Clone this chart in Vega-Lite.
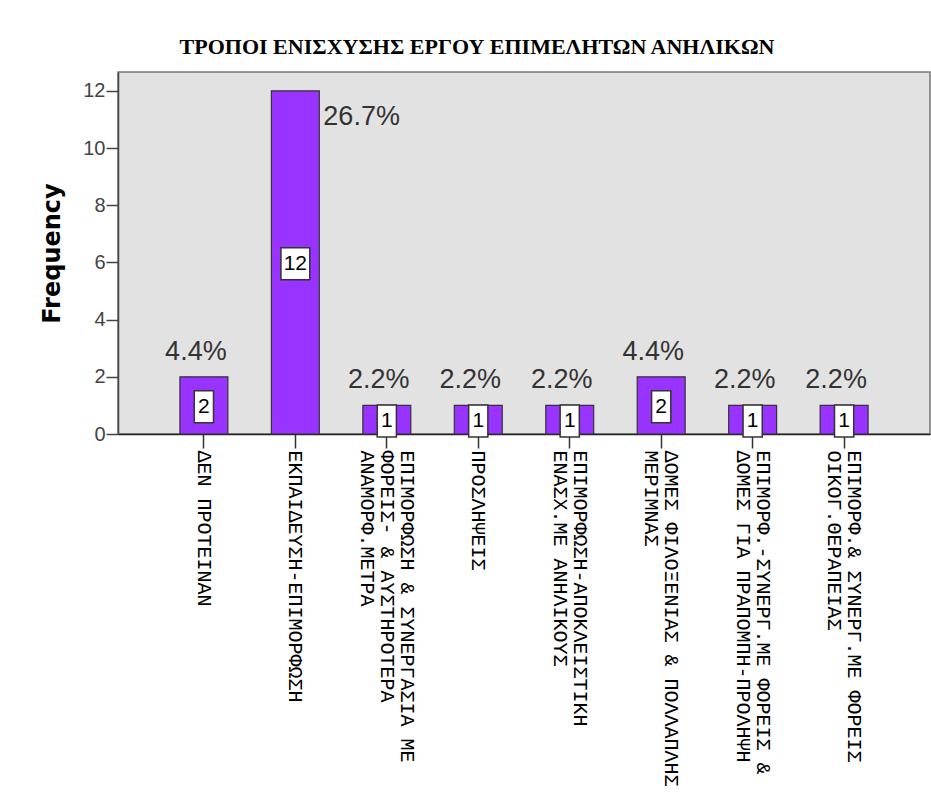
{
  "$schema": "https://vega.github.io/schema/vega-lite/v6.json",
  "autosize": "none",
  "width": 812,
  "height": 362,
  "padding": {"left": 118, "top": 72, "right": 1, "bottom": 367},
  "background": "white",
  "config": {
    "view": {"fill": "#e2e2e2", "stroke": "#777777", "strokeWidth": 1.5}
  },
  "title": {
    "text": "ΤΡΟΠΟΙ ΕΝΙΣΧΥΣΗΣ ΕΡΓΟΥ ΕΠΙΜΕΛΗΤΩΝ ΑΝΗΛΙΚΩΝ",
    "font": "Liberation Serif",
    "fontSize": 22,
    "fontWeight": "bold",
    "color": "#000000",
    "anchor": "middle",
    "dx": -47,
    "offset": 13
  },
  "data": {
    "values": [
      {"category": "ΔΕΝ ΠΡΟΤΕΙΝΑΝ", "count": 2, "pct": 0.044},
      {"category": "ΕΚΠΑΙΔΕΥΣΗ-ΕΠΙΜΟΡΦΩΣΗ", "count": 12, "pct": 0.267},
      {"category": "ΕΠΙΜΟΡΦΩΣΗ & ΣΥΝΕΡΓΑΣΙΑ ΜΕ|ΦΟΡΕΙΣ- & ΑΥΣΤΗΡΟΤΕΡΑ|ΑΝΑΜΟΡΦ.ΜΕΤΡΑ", "count": 1, "pct": 0.022},
      {"category": "ΠΡΟΣΛΗΨΕΙΣ", "count": 1, "pct": 0.022},
      {"category": "ΕΠΙΜΟΡΦΩΣΗ-ΑΠΟΚΛΕΙΣΤΙΚΗ|ΕΝΑΣΧ.ΜΕ ΑΝΗΛΙΚΟΥΣ", "count": 1, "pct": 0.022},
      {"category": "ΔΟΜΕΣ ΦΙΛΟΞΕΝΙΑΣ & ΠΟΛΛΑΠΛΗΣ|ΜΕΡΙΜΝΑΣ", "count": 2, "pct": 0.044},
      {"category": "ΕΠΙΜΟΡΦ.-ΣΥΝΕΡΓ.ΜΕ ΦΟΡΕΙΣ &|ΔΟΜΕΣ ΓΙΑ ΠΡΑΠΟΜΠΗ-ΠΡΟΛΗΨΗ", "count": 1, "pct": 0.022},
      {"category": "ΕΠΙΜΟΡΦ.& ΣΥΝΕΡΓ.ΜΕ ΦΟΡΕΙΣ|ΟΙΚΟΓ.ΘΕΡΑΠΕΙΑΣ", "count": 1, "pct": 0.022}
    ]
  },
  "encoding": {
    "x": {
      "field": "category",
      "type": "nominal",
      "sort": null,
      "scale": {"paddingInner": 0.476, "paddingOuter": 0.677},
      "axis": {
        "title": null,
        "labelAngle": 90,
        "labelFont": "Liberation Mono",
        "labelFontSize": 20,
        "labelColor": "#000000",
        "labelLimit": 0,
        "labelLineHeight": 20,
        "labelPadding": 2,
        "labelExpr": "split(datum.label, '|')",
        "labelOffset": {
          "condition": [
            {"test": "length(split(datum.value, '|')) == 3", "value": 20},
            {"test": "length(split(datum.value, '|')) == 2", "value": 10}
          ],
          "value": 0
        },
        "tickSize": 14,
        "tickColor": "#333333",
        "tickWidth": 1.5,
        "domainColor": "#222222",
        "domainWidth": 1.5
      }
    }
  },
  "resolve": {"scale": {"y": "independent"}},
  "layer": [
    {
      "encoding": {
        "y": {
          "field": "count",
          "type": "quantitative",
          "scale": {"domain": [0, 12.66], "nice": false},
          "axis": {
            "title": "Frequency",
            "titleFont": "DejaVu Sans",
            "titleFontSize": 24,
            "titleFontWeight": "bold",
            "titleColor": "#000000",
            "titlePadding": 18,
            "values": [0, 2, 4, 6, 8, 10, 12],
            "grid": false,
            "labelFont": "Liberation Sans",
            "labelFontSize": 20,
            "labelColor": "#444444",
            "labelPadding": 1,
            "tickSize": 12,
            "tickColor": "#444444",
            "tickWidth": 1.5,
            "domainColor": "#444444",
            "domainWidth": 1.5
          }
        }
      },
      "layer": [
        {
          "mark": {"type": "bar", "fill": "#9933ff", "stroke": "#333333", "strokeWidth": 1.2}
        },
        {
          "transform": [{"filter": "datum.count < 10"}],
          "mark": {"type": "text", "font": "Liberation Sans", "fontSize": 27, "color": "#333333", "baseline": "alphabetic", "align": "center", "dx": -8, "dy": -17},
          "encoding": {"text": {"field": "pct", "type": "quantitative", "format": ".1%"}}
        },
        {
          "transform": [{"filter": "datum.count >= 10"}],
          "mark": {"type": "text", "font": "Liberation Sans", "fontSize": 27, "color": "#333333", "baseline": "alphabetic", "align": "left", "dx": 28, "dy": 34},
          "encoding": {"text": {"field": "pct", "type": "quantitative", "format": ".1%"}}
        }
      ]
    },
    {
      "encoding": {
        "y": {
          "field": "count",
          "type": "quantitative",
          "scale": {"domain": [0.1, 25.4], "nice": false, "zero": false},
          "axis": null
        }
      },
      "layer": [
        {
          "transform": [{"filter": "datum.count < 10"}],
          "mark": {"type": "point", "shape": "M-0.6,-1H0.6V1H-0.6Z", "size": 1024, "filled": true, "fill": "white", "stroke": "#333333", "strokeWidth": 1.5, "opacity": 1}
        },
        {
          "transform": [{"filter": "datum.count >= 10"}],
          "mark": {"type": "point", "shape": "M-0.9,-1H0.9V1H-0.9Z", "size": 1024, "filled": true, "fill": "white", "stroke": "#333333", "strokeWidth": 1.5, "opacity": 1}
        },
        {
          "mark": {"type": "text", "font": "Liberation Sans", "fontSize": 21, "color": "#000000", "baseline": "middle", "align": "center"},
          "encoding": {"text": {"field": "count", "type": "quantitative"}}
        }
      ]
    }
  ]
}
